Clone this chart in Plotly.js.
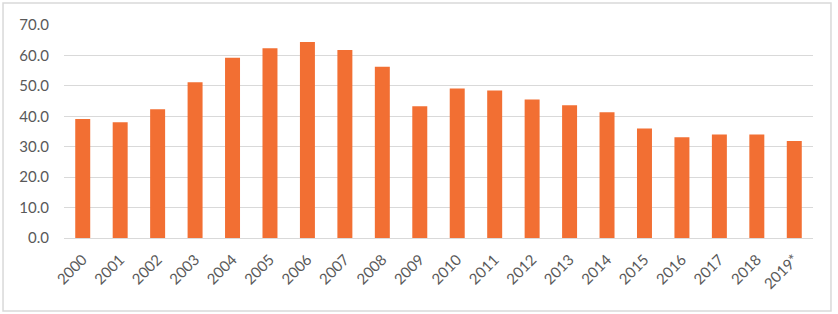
<!DOCTYPE html>
<html>
<head>
<meta charset="utf-8">
<script src="https://cdn.plot.ly/plotly-3.0.1.min.js"></script>
<style>html,body{margin:0;padding:0;background:#fff;}#chart{width:838px;height:314px;}</style>
</head>
<body>
<div id="chart"></div>
<script>
const years = ["2000","2001","2002","2003","2004","2005","2006","2007","2008","2009","2010","2011","2012","2013","2014","2015","2016","2017","2018","2019*"];
const values = [39.1,38.0,42.3,51.2,59.2,62.4,64.4,61.8,56.3,43.3,49.1,48.5,45.5,43.6,41.3,36.0,33.1,34.0,34.0,31.9];
const yTicks = [0,10,20,30,40,50,60,70];
const yTickText = yTicks.map(v => v.toFixed(1));

const trace = {
  type: 'bar',
  x: years,
  y: values,
  marker: {color: '#F26F33'},
  hoverinfo: 'x+y'
};

const layout = {
  width: 838, height: 314,
  margin: {l: 64, r: 25, t: 25, b: 76},
  paper_bgcolor: '#ffffff',
  plot_bgcolor: '#ffffff',
  bargap: 0.6,
  showlegend: false,
  font: {family: 'Lato, "Liberation Sans", sans-serif', color: '#595959', size: 14},
  xaxis: {
    type: 'category',
    tickangle: -45,
    showgrid: false,
    showline: false,
    zeroline: false,
    ticks: '',
    ticklabelstandoff: 9,
    tickfont: {size: 15, color: '#595959'}
  },
  yaxis: {
    range: [0, 70],
    tickvals: yTicks,
    ticktext: yTickText,
    showgrid: true,
    gridcolor: '#d9d9d9',
    gridwidth: 1,
    zeroline: true,
    zerolinecolor: '#d9d9d9',
    zerolinewidth: 1,
    showline: false,
    ticks: '',
    ticklabelstandoff: 14,
    tickfont: {size: 15, color: '#595959'}
  },
  shapes: [{
    type: 'rect', xref: 'paper', yref: 'paper',
    x0: -0.0814, x1: 1.024, y0: -0.343, y1: 1.103,
    line: {color: '#d9d9d9', width: 1.5},
    fillcolor: 'rgba(0,0,0,0)', layer: 'below'
  }]
};

Plotly.newPlot('chart', [trace], layout, {displayModeBar: false, staticPlot: true});
</script>
</body>
</html>
